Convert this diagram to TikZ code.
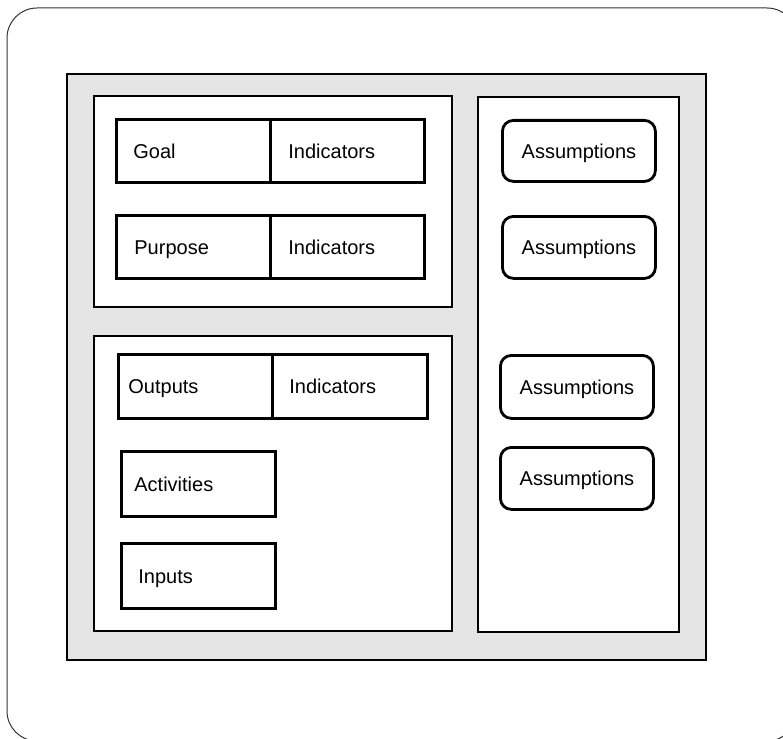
\documentclass[tikz,border=0pt]{standalone}
\usepackage{fontspec}
\setmainfont{Liberation Sans}
\begin{document}
\begin{tikzpicture}[x=1pt,y=-1pt,
  frame/.style={draw=black!80, line width=1pt},
  shaded/.style={draw=black, line width=2.4pt, fill=black!10, anchor=north west, inner sep=0pt},
  panel/.style={draw=black, line width=1.8pt, fill=white, anchor=north west, inner sep=0pt},
  lbl/.style={font=\fontsize{20}{24}\selectfont, text height=14.3pt, text depth=0pt},
  cell/.style={lbl, draw=black, line width=2.8pt, fill=white, anchor=north west,
    align=left, inner ysep=0pt},
  assume/.style={lbl, draw=black, line width=2.8pt, rounded corners=11pt, fill=white,
    anchor=north west, inner sep=0pt, minimum width=153pt, align=center}
]
\useasboundingbox (0,0) rectangle (783,738);
\begin{scope}
  \clip (0,0) rectangle (783,738);
  \draw[frame, rounded corners=30pt] (7,8) rectangle (797,741);
\end{scope}

% shaded frame and white panels
\node[shaded, minimum width=639pt, minimum height=586pt] (shade) at (66,73) {};
\node[panel, minimum width=358pt, minimum height=211pt] (toppanel) at (93,95) {};
\node[panel, minimum width=358pt, minimum height=295pt] (lowpanel) at (93,335) {};
\node[panel, minimum width=201pt, minimum height=535pt] (rightpanel) at (477,96) {};

% left column boxes
\node[cell, minimum width=154pt, minimum height=63pt, inner xsep=17pt, text width=120pt] (goal) at (115,118) {Goal};
\node[cell, minimum width=154pt, minimum height=63pt, inner xsep=18pt, text width=118pt] (goalind) at (269,118) {Indicators};
\node[cell, minimum width=154pt, minimum height=63pt, inner xsep=18pt, text width=118pt] (purpose) at (115,214) {Purpose};
\node[cell, minimum width=154pt, minimum height=63pt, inner xsep=18pt, text width=118pt] (purpind) at (269,214) {Indicators};
\node[cell, minimum width=154pt, minimum height=64pt, inner xsep=10pt, text width=134pt] (outputs) at (117,353) {Outputs};
\node[cell, minimum width=155pt, minimum height=64pt, inner xsep=17pt, text width=121pt] (outind) at (271,353) {Indicators};
\node[cell, minimum width=154pt, minimum height=65pt, inner xsep=13pt, text width=128pt] (activities) at (120,450) {Activities};
\node[cell, minimum width=154pt, minimum height=65pt, inner xsep=17pt, text width=120pt] (inputs) at (120,542) {Inputs};

% assumptions
\node[assume, minimum height=61pt] (a1) at (501,119) {Assumptions};
\node[assume, minimum height=62pt] (a2) at (501,215) {Assumptions};
\node[assume, minimum height=63pt] (a3) at (499,354) {Assumptions};
\node[assume, minimum height=62pt] (a4) at (499,446) {Assumptions};
\end{tikzpicture}
\end{document}
